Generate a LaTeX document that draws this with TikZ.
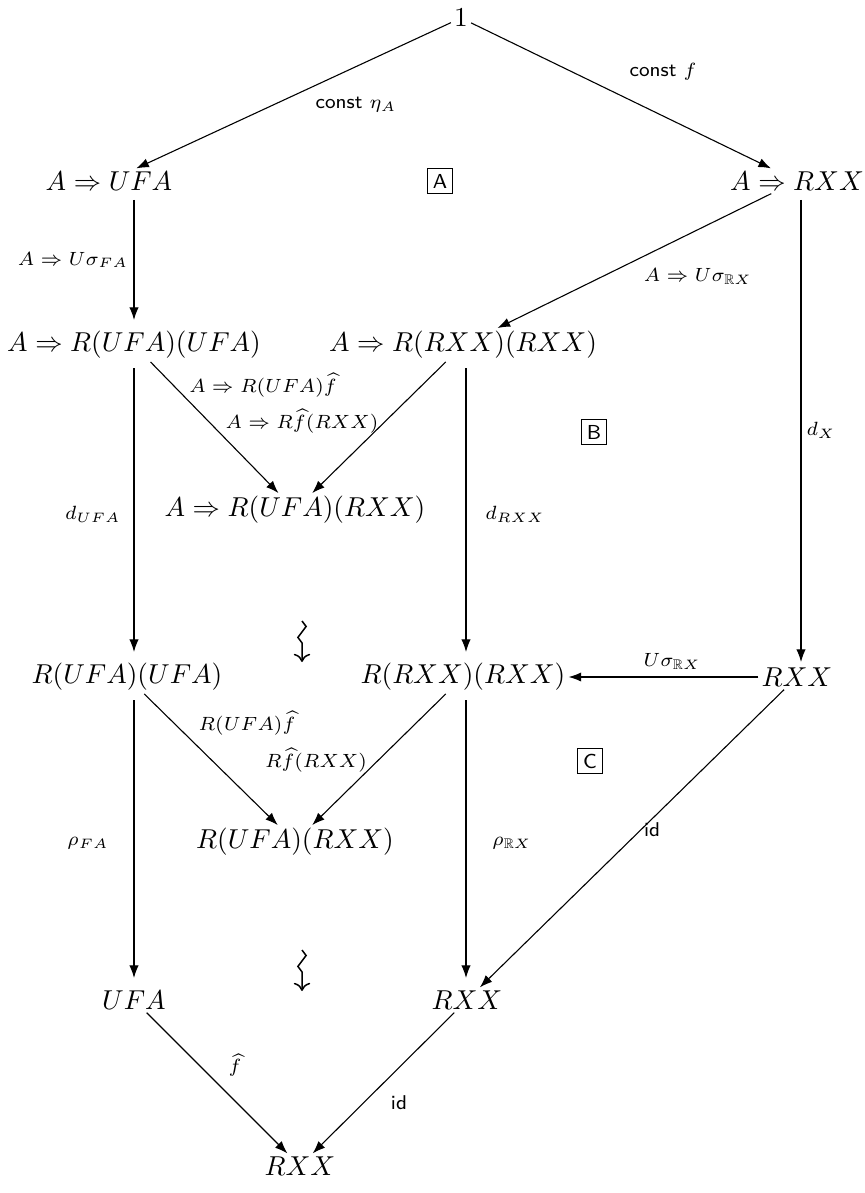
\documentclass[tikz,border=0pt]{standalone}
\usepackage{amssymb}
\usetikzlibrary{arrows.meta,decorations.pathmorphing}
\begin{document}
\begin{tikzpicture}[x=0.3656pt,y=-0.3656pt,
  obj/.style={inner sep=1pt},
  lab/.style={font=\fontsize{7.3pt}{9pt}\selectfont,inner sep=1pt},
  arr/.style={-{Latex[length=4.6pt,width=3.4pt]}},
  boxlbl/.style={draw,font=\fontsize{7.4pt}{9pt}\selectfont\sffamily,minimum size=9.2pt,inner sep=1pt},
  squig/.style={decorate,decoration={zigzag,amplitude=1.5pt,segment length=8pt,post length=4.5pt},line width=0.55pt,-{To[length=3pt,width=6pt]}}]
\useasboundingbox (0,0) rectangle (865,1193);
% objects
\node[obj] (one) at (461,18) {$1$};
\node[obj] (aufa) at (109,181) {$A\Rightarrow UFA$};
\node[obj] (arxx) at (797,181) {$A\Rightarrow RXX$};
\node[obj] (aru) at (134,345) {$A\Rightarrow R(UFA)(UFA)$};
\node[obj] (arr) at (463,345) {$A\Rightarrow R(RXX)(RXX)$};
\node[obj] (arur) at (295,510) {$A\Rightarrow R(UFA)(RXX)$};
\node[obj] (ru) at (127,677) {$R(UFA)(UFA)$};
\node[obj] (rr) at (463,677) {$R(RXX)(RXX)$};
\node[obj] (rxxr) at (797,677) {$RXX$};
\node[obj] (rur) at (295,842) {$R(UFA)(RXX)$};
\node[obj] (ufa) at (134,1000) {$UFA$};
\node[obj] (rxxm) at (467,1000) {$RXX$};
\node[obj] (rxxb) at (300,1166) {$RXX$};
% boxes
\node[boxlbl] (bA) at (440,181) {A};
\node[boxlbl] (bB) at (594,432) {B};
\node[boxlbl] (bC) at (590,761) {C};
% arrows
\draw[arr] (one) -- (aufa);
\draw[arr] (one) -- (arxx);
\draw[arr] (134,200) -- (134,320);
\draw[arr] (arxx) -- (arr);
\draw[arr] (801,200) -- (801,662);
\draw[arr] (aru) -- (arur);
\draw[arr] (arr) -- (arur);
\draw[arr] (134,368) -- (134,652);
\draw[arr] (466,368) -- (466,652);
\draw[arr] (rxxr) -- (rr);
\draw[arr] (ru) -- (rur);
\draw[arr] (rr) -- (rur);
\draw[arr] (134,700) -- (134,978);
\draw[arr] (466,700) -- (466,978);
\draw[arr] (rxxr) -- (rxxm);
\draw[arr] (ufa) -- (rxxb);
\draw[arr] (rxxm) -- (rxxb);
% squiggles
\coordinate (s1a) at (302,621);
\coordinate (s1b) at (302,662);
\coordinate (s2a) at (302,950);
\coordinate (s2b) at (302,991);
\draw[squig] (s1a) -- (s1b);
\draw[squig] (s2a) -- (s2b);
% labels
\node[lab] (l1) at (356,105) {$\textsf{const }\eta_A$};
\node[lab] (l2) at (663,72) {$\textsf{const }f$};
\node[lab] (l3) at (73,260) {$A\Rightarrow U\sigma_{FA}$};
\node[lab] (l4) at (698,276) {$A\Rightarrow U\sigma_{\mathbb{R}X}$};
\node[lab] (l5) at (821,430) {$d_X$};
\node[lab] (l6) at (263,385) {$A\Rightarrow R(UFA)\widehat{f}$};
\node[lab] (l7) at (302,421) {$A\Rightarrow R\widehat{f}(RXX)$};
\node[lab] (l8) at (93,514) {$d_{UFA}$};
\node[lab] (l9) at (515,514) {$d_{RXX}$};
\node[lab] (l10) at (672,661) {$U\sigma_{\mathbb{R}X}$};
\node[lab] (l11) at (247,723) {$R(UFA)\widehat{f}$};
\node[lab] (l12) at (316,760) {$R\widehat{f}(RXX)$};
\node[lab] (l13) at (88,843) {$\rho_{FA}$};
\node[lab] (l14) at (512,843) {$\rho_{\mathbb{R}X}$};
\node[lab] (l15) at (652,830) {\textsf{id}};
\node[lab] (l16) at (235,1065) {$\widehat{f}$};
\node[lab] (l17) at (399,1103) {\textsf{id}};
\end{tikzpicture}
\end{document}
